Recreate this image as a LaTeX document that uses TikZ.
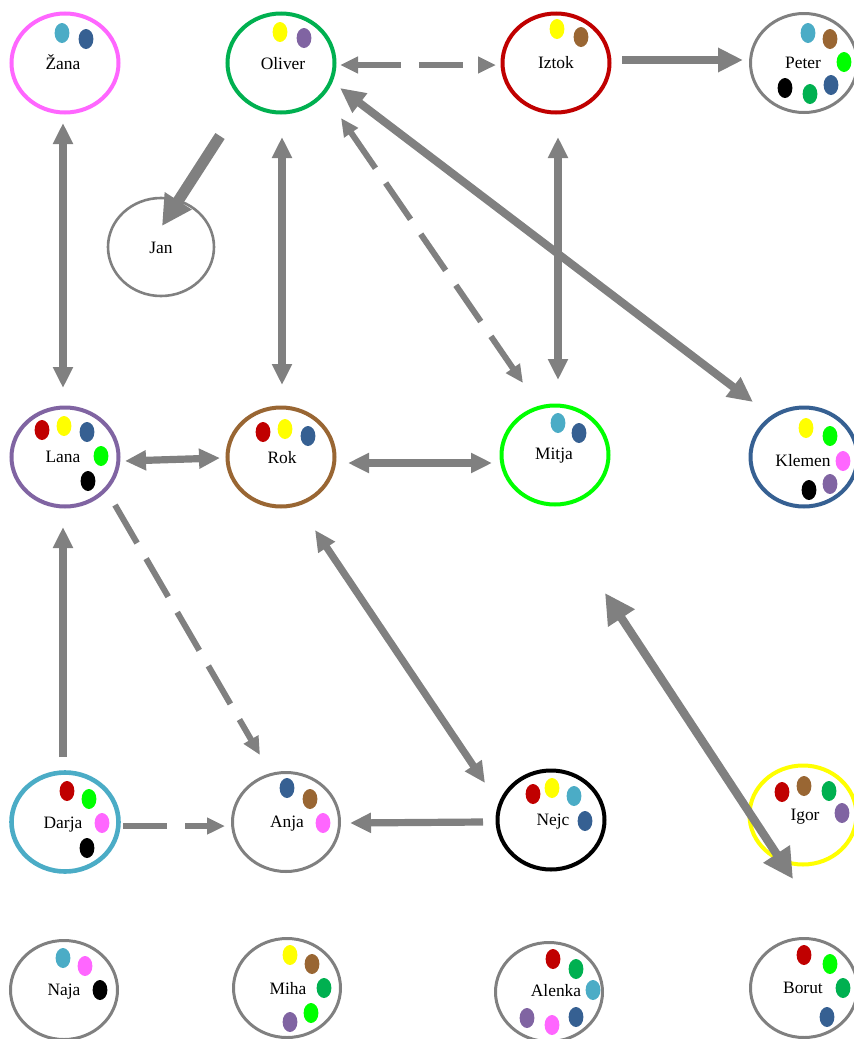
\documentclass[tikz,border=0pt]{standalone}
\usepackage{fontspec}
\setmainfont{Liberation Serif}
\usetikzlibrary{shapes.geometric,arrows.meta}
\definecolor{cy}{HTML}{4BACC6}
\definecolor{db}{HTML}{366092}
\definecolor{ye}{HTML}{FFFF00}
\definecolor{pu}{HTML}{8064A2}
\definecolor{dg}{HTML}{00B050}
\definecolor{rd}{HTML}{C00000}
\definecolor{br}{HTML}{996633}
\definecolor{lg}{HTML}{00FF00}
\definecolor{pk}{HTML}{FF66FF}
\definecolor{bk}{HTML}{000000}
\definecolor{agray}{HTML}{808080}
\tikzset{
  TA/.tip={Triangle[width=9.5pt,length=10.5pt]},
  TD/.tip={Triangle[width=8pt,length=9pt]},
  TB/.tip={Triangle[width=11.5pt,length=12.5pt]},
  TC/.tip={Triangle[width=15pt,length=15pt]},
  circ/.style={ellipse, draw, line width=2pt, minimum width=53.5pt, minimum height=49.5pt, inner sep=0pt},
  gcirc/.style={circ, draw=agray, line width=1.5pt},
  lab/.style={inner sep=0pt, text height=0.66em, text depth=0pt, font=\fontsize{8.7}{10}\selectfont},
  arr/.style={draw=agray, line width=3.6pt},
  dsh/.style={draw=agray, line width=3pt, dash pattern=on 22pt off 9pt},
}
\newcommand{\spot}[3]{\fill[#1] (#2,#3) ellipse (3.7pt and 5pt);}
\begin{document}
\begin{tikzpicture}[x=0.5pt,y=-0.5pt]
\useasboundingbox (0,0) rectangle (853,1039);
% circles
\node[circ, draw=pk] (zana) at (65,63) {};
\node[circ, draw=dg] (oliver) at (281,63) {};
\node[circ, draw=rd] (iztok) at (556,63) {};
\node[gcirc] (peter) at (804,63) {};
\node[gcirc, line width=1.3pt, minimum width=53pt, minimum height=49pt] (jan) at (161,247) {};
\node[circ, draw=pu] (lana) at (65,457) {};
\node[circ, draw=br] (rok) at (281,457) {};
\node[circ, draw=lg] (mitja) at (555,455) {};
\node[circ, draw=db] (klemen) at (804,457) {};
\node[circ, draw=cy, line width=2.3pt] (darja) at (65,822) {};
\node[gcirc] (anja) at (286,822) {};
\node[circ, draw=bk] (nejc) at (551,820) {};
\node[circ, draw=ye] (igor) at (803,815) {};
\node[gcirc] (naja) at (64,990) {};
\node[gcirc] (miha) at (287,988) {};
\node[gcirc] (alenka) at (549,992) {};
\node[gcirc] (borut) at (804,988) {};
% labels
\node[lab] (zanaT) at (63,63) {Žana};
\node[lab] (oliverT) at (283,63) {Oliver};
\node[lab] (iztokT) at (556,62) {Iztok};
\node[lab] (peterT) at (803,62) {Peter};
\node[lab] (janT) at (161,247) {Jan};
\node[lab] (lanaT) at (63,456) {Lana};
\node[lab] (rokT) at (282,457) {Rok};
\node[lab] (mitjaT) at (554,453) {Mitja};
\node[lab] (klemenT) at (803,460) {Klemen};
\node[lab] (darjaT) at (63,822) {Darja};
\node[lab] (anjaT) at (287,821) {Anja};
\node[lab] (nejcT) at (553,819) {Nejc};
\node[lab] (igorT) at (805,814) {Igor};
\node[lab] (najaT) at (64,989) {Naja};
\node[lab] (mihaT) at (288,988) {Miha};
\node[lab] (alenkaT) at (556,990) {Alenka};
\node[lab] (borutT) at (803,987) {Borut};
% dots
\spot{cy}{62}{33}\spot{db}{86}{39}
\spot{ye}{280}{32}\spot{pu}{304}{38}
\spot{ye}{557}{29}\spot{br}{581}{37}
\spot{cy}{808}{33}\spot{br}{830}{39}\spot{lg}{844}{62}\spot{db}{831}{85}\spot{dg}{810}{94}\spot{bk}{785}{88}
\spot{rd}{42}{430}\spot{ye}{64}{426}\spot{db}{87}{432}\spot{lg}{101}{456}\spot{bk}{88}{481}
\spot{rd}{263}{432}\spot{ye}{285}{429}\spot{db}{308}{436}
\spot{cy}{558}{423}\spot{db}{579}{433}
\spot{ye}{806}{428}\spot{lg}{830}{436}\spot{pk}{843}{461}\spot{pu}{830}{484}\spot{bk}{809}{490}
\spot{rd}{67}{791}\spot{lg}{89}{799}\spot{pk}{102}{823}\spot{bk}{87}{848}
\spot{db}{287}{788}\spot{br}{310}{799}\spot{pk}{323}{823}
\spot{rd}{533}{794}\spot{ye}{552}{788}\spot{cy}{574}{796}\spot{db}{585}{821}
\spot{rd}{782}{792}\spot{br}{804}{786}\spot{dg}{829}{791}\spot{pu}{842}{813}
\spot{cy}{63}{958}\spot{pk}{85}{966}\spot{bk}{100}{990}
\spot{ye}{290}{955}\spot{br}{312}{964}\spot{dg}{324}{988}\spot{lg}{311}{1013}\spot{pu}{290}{1022}
\spot{rd}{553}{959}\spot{dg}{576}{969}\spot{cy}{593}{990}\spot{db}{576}{1017}\spot{pk}{552}{1025}\spot{pu}{527}{1018}
\spot{rd}{804}{955}\spot{lg}{830}{964}\spot{dg}{843}{988}\spot{db}{827}{1017}
% connectors
\coordinate (free1) at (605,593);
\draw[dsh, TD-TD] ([shift={(59,2)}]oliver.center) -- ([shift={(-60,2)}]iztok.center);
\draw[arr, line width=4pt, -TB] ([shift={(66,-3)}]iztok.center) -- ([shift={(-61,-3)}]peter.center);
\draw[arr, TA-TA] ([shift={(-2,60)}]zana.center) -- ([shift={(-2,-69)}]lana.center);
\draw[arr, line width=5.5pt, -TC] ([shift={(-61,73)}]oliver.center) -- ([shift={(1,-21)}]jan.center);
\draw[arr, TA-TA] ([shift={(1,74)}]oliver.center) -- ([shift={(1,-72)}]rok.center);
\draw[dsh, TD-TD] ([shift={(60,55)}]oliver.center) -- ([shift={(-32,-72)}]mitja.center);
\draw[arr, line width=4pt, TB-TB] ([shift={(59,25)}]oliver.center) -- ([shift={(-51,-55)}]klemen.center);
\draw[arr, TA-TA] ([shift={(2,74)}]iztok.center) -- ([shift={(3,-75)}]mitja.center);
\draw[arr, TA-TA] ([shift={(60,4)}]lana.center) -- ([shift={(-61,1)}]rok.center);
\draw[arr, TA-TA] ([shift={(67,6)}]rok.center) -- ([shift={(-63,8)}]mitja.center);
\draw[dsh, -TD] ([shift={(50,48)}]lana.center) -- ([shift={(-26,-67)}]anja.center);
\draw[arr, -TA] ([shift={(-2,-65)}]darja.center) -- ([shift={(-2,70)}]lana.center);
\draw[arr, TA-TA] ([shift={(34,73)}]rok.center) -- ([shift={(-66,-37)}]nejc.center);
\draw[dsh, -TD] ([shift={(58,4)}]darja.center) -- ([shift={(-61,4)}]anja.center);
\draw[arr, -TA] ([shift={(-68,2)}]nejc.center) -- ([shift={(64,1)}]anja.center);
\draw[arr, line width=4.2pt, TC-TC] (free1) -- ([shift={(-10,64)}]igor.center);
\end{tikzpicture}
\end{document}
